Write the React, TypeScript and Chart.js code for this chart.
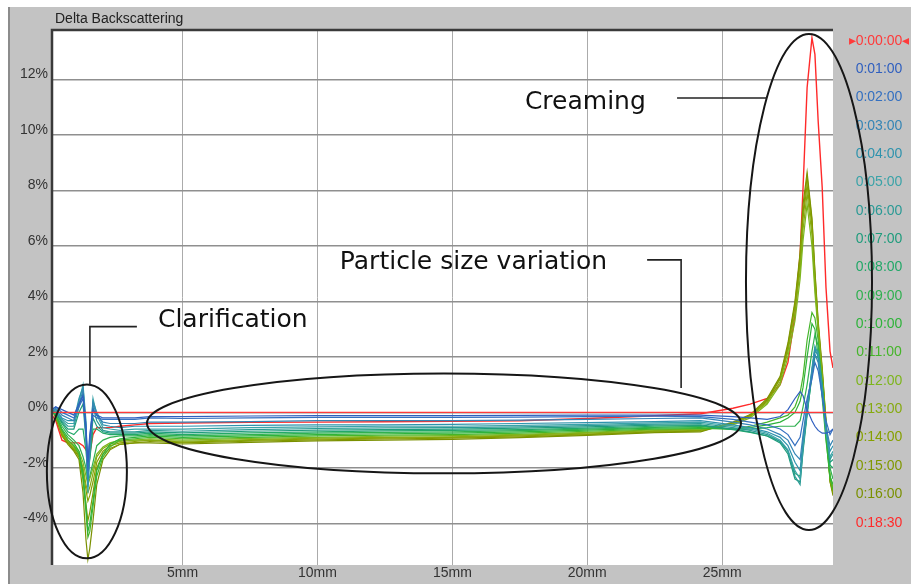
import { useEffect, useRef } from 'react';
import { Chart, registerables } from 'chart.js';

Chart.register(...registerables);

// ---- data (height in the cell, mm / delta backscattering, %) ----
const positionsMm = [
  0.16, 0.30, 0.53, 0.75, 0.97, 1.16, 1.31, 1.42, 1.49, 1.56, 1.68, 1.82, 2.05, 2.31, 2.68, 3.23, 3.79,
  5.0, 7.5, 10.0, 12.5, 15.0, 17.5, 20.0, 22.5,
  24.2, 25.4, 26.04, 26.67, 27.15, 27.44, 27.70, 27.89, 28.0, 28.15, 28.33, 28.44, 28.56, 28.71, 28.85, 29.0, 29.11,
];

const refPositionsMm = [0.16, 29.11];
const delta0000 = [0, 0];

const delta0100 = [0.1, 0.2, 0.1, 0.0, -0.1, 0.3, 0.6, -0.5, -1.8, -0.8, 0.1, -0.1, -0.2, -0.2, -0.2, -0.2, -0.15,
  -0.15, -0.13, -0.12, -0.12, -0.12, -0.11, -0.1, -0.1,
  -0.1, -0.15, -0.2, -0.25, -0.15, 0.1, 0.5, 0.75, 0.6, 0.1, -0.3, -0.5, -0.65, -0.75, -0.75, -0.7, -0.6];
const delta0200 = [0.1, 0.2, 0.0, -0.1, -0.2, 0.2, 0.5, -0.8, -2.1, -1.0, -0.1, -0.2, -0.25, -0.25, -0.25, -0.25, -0.2,
  -0.22, -0.2, -0.18, -0.18, -0.18, -0.17, -0.15, -0.14,
  -0.15, -0.25, -0.35, -0.45, -0.6, -0.8, -1.2, -0.9, -0.3, 0.5, 1.2, 1.8, 1.5, 0.6, -0.3, -0.8, -0.6];
const delta0300 = [0.05, 0.15, -0.1, -0.2, -0.3, 0.3, 0.8, -0.6, -2.4, -1.2, 0.3, -0.1, -0.35, -0.4, -0.4, -0.4, -0.35,
  -0.35, -0.33, -0.3, -0.3, -0.3, -0.28, -0.25, -0.22,
  -0.2, -0.35, -0.45, -0.6, -0.8, -1.0, -1.5, -1.7, -0.8, 0.3, 1.4, 2.1, 1.8, 0.6, -0.5, -1.2, -1.0];
const delta0400 = [0.05, 0.1, -0.2, -0.3, -0.3, 0.5, 0.9, -0.5, -2.7, -1.0, 0.4, 0.0, -0.45, -0.5, -0.55, -0.5, -0.5,
  -0.5, -0.47, -0.45, -0.45, -0.43, -0.4, -0.37, -0.33,
  -0.3, -0.45, -0.55, -0.7, -0.9, -1.2, -1.8, -2.1, -1.0, 0.2, 1.5, 2.3, 2.0, 0.7, -0.6, -1.4, -1.2];
const delta0500 = [0.0, 0.1, -0.25, -0.4, -0.4, 0.4, 1.0, -0.3, -2.9, -1.3, 0.5, -0.1, -0.55, -0.6, -0.65, -0.6, -0.6,
  -0.6, -0.55, -0.52, -0.5, -0.5, -0.47, -0.43, -0.38,
  -0.35, -0.5, -0.6, -0.75, -1.0, -1.35, -2.1, -2.4, -1.2, 0.1, 1.6, 2.4, 2.1, 0.8, -0.7, -1.6, -1.4];
const delta0600 = [0.0, 0.05, -0.3, -0.5, -0.5, 0.2, 0.7, -0.8, -2.6, -1.5, 0.2, -0.3, -0.65, -0.7, -0.7, -0.7, -0.65,
  -0.68, -0.62, -0.58, -0.56, -0.55, -0.52, -0.48, -0.42,
  -0.4, -0.55, -0.65, -0.8, -1.05, -1.4, -2.3, -2.6, -1.3, 0.0, 1.5, 2.3, 2.2, 0.9, -0.6, -1.7, -1.5];
const delta0700 = [0.0, 0.0, -0.35, -0.6, -0.6, 0.0, 0.3, -1.0, -2.3, -1.6, -0.2, -0.5, -0.7, -0.75, -0.75, -0.75, -0.7,
  -0.74, -0.68, -0.64, -0.62, -0.6, -0.57, -0.52, -0.46,
  -0.45, -0.6, -0.7, -0.85, -1.1, -1.5, -2.4, -2.5, -1.4, -0.1, 1.4, 2.2, 2.1, 0.9, -0.5, -1.8, -1.7];
const delta0800 = [0.0, 0.0, -0.4, -0.7, -0.8, -0.6, -0.6, -1.4, -2.2, -1.7, -0.6, -0.6, -0.75, -0.8, -0.8, -0.8, -0.75,
  -0.8, -0.74, -0.7, -0.67, -0.65, -0.62, -0.57, -0.5,
  -0.48, -0.62, -0.72, -0.85, -1.05, -1.4, -2.2, -2.3, -1.2, 0.0, 1.3, 2.0, 2.0, 1.0, -0.4, -1.9, -2.0];
const delta0900 = [0.0, -0.05, -0.5, -0.8, -1.0, -1.2, -1.6, -2.0, -2.5, -2.3, -1.8, -1.2, -1.0, -0.9, -0.85, -0.85, -0.8,
  -0.85, -0.8, -0.75, -0.72, -0.7, -0.66, -0.6, -0.54,
  -0.5, -0.6, -0.6, -0.55, -0.5, -0.5, -0.5, -0.3, 0.2, 1.0, 2.2, 2.8, 2.4, 1.0, -0.5, -2.0, -2.4];
const delta1000 = [0.05, -0.1, -0.6, -0.9, -1.1, -1.4, -2.2, -3.4, -4.3, -4.0, -3.2, -2.1, -1.5, -1.15, -0.95, -0.9, -0.85,
  -0.9, -0.85, -0.8, -0.77, -0.75, -0.7, -0.64, -0.57,
  -0.55, -0.6, -0.55, -0.45, -0.35, -0.2, 0.0, 0.4, 0.9, 2.0, 3.2, 3.0, 2.0, 0.5, -1.0, -2.3, -2.6];
const delta1100 = [0.05, -0.1, -0.65, -1.0, -1.2, -1.5, -2.4, -3.6, -4.5, -4.3, -3.4, -2.3, -1.6, -1.25, -1.0, -0.95, -0.9,
  -0.95, -0.9, -0.85, -0.82, -0.8, -0.75, -0.68, -0.6,
  -0.58, -0.6, -0.5, -0.35, -0.2, -0.1, 0.2, 0.7, 1.3, 2.6, 3.6, 3.4, 2.6, 0.9, -0.9, -2.4, -2.8];
const delta1200 = [0.1, -0.1, -0.7, -1.0, -1.2, -1.4, -1.8, -2.3, -2.6, -2.4, -2.0, -1.5, -1.25, -1.1, -1.0, -1.0, -0.95,
  -1.0, -0.94, -0.9, -0.86, -0.84, -0.79, -0.72, -0.63,
  -0.6, -0.45, -0.2, 0.3, 1.0, 2.0, 3.3, 4.8, 6.2, 7.5, 6.0, 4.3, 2.9, 1.2, -0.6, -2.3, -2.7];
const delta1300 = [0.1, -0.1, -0.75, -1.05, -1.25, -1.5, -2.0, -2.6, -2.9, -2.7, -2.2, -1.6, -1.3, -1.15, -1.05, -1.0, -1.0,
  -1.04, -0.98, -0.93, -0.9, -0.88, -0.82, -0.75, -0.66,
  -0.62, -0.42, -0.15, 0.35, 1.1, 2.2, 3.6, 5.1, 6.6, 7.9, 6.4, 4.6, 3.0, 1.3, -0.5, -2.4, -2.8];
const delta1400 = [0.1, -0.15, -0.8, -1.1, -1.3, -1.55, -2.1, -2.8, -3.2, -3.0, -2.5, -1.8, -1.4, -1.2, -1.1, -1.05, -1.0,
  -1.07, -1.01, -0.96, -0.93, -0.9, -0.85, -0.78, -0.68,
  -0.65, -0.4, -0.12, 0.4, 1.2, 2.3, 3.8, 5.4, 7.0, 8.2, 6.7, 4.8, 3.1, 1.4, -0.4, -2.4, -2.9];
const delta1500 = [0.1, -0.15, -0.8, -1.1, -1.35, -1.6, -2.4, -3.3, -3.9, -3.6, -2.9, -2.0, -1.5, -1.3, -1.15, -1.1, -1.05,
  -1.1, -1.04, -0.99, -0.96, -0.93, -0.88, -0.8, -0.7,
  -0.68, -0.38, -0.1, 0.45, 1.25, 2.4, 3.9, 5.6, 7.2, 8.5, 6.9, 5.0, 3.2, 1.5, -0.3, -2.5, -2.9];
const delta1600 = [0.1, -0.2, -0.85, -1.15, -1.4, -1.7, -2.9, -4.6, -5.3, -4.9, -3.9, -2.6, -1.7, -1.35, -1.15, -1.1, -1.1,
  -1.14, -1.08, -1.03, -1.0, -0.97, -0.91, -0.83, -0.73,
  -0.7, -0.35, -0.08, 0.5, 1.3, 2.5, 4.0, 5.75, 7.5, 8.65, 7.0, 5.1, 3.3, 1.6, -0.3, -2.5, -3.0];
const delta1830 = [-0.1, -0.3, -1.0, -1.1, -1.1, -1.1, -1.2, -1.35, -1.45, -1.5, -0.8, -0.55, -0.55, -0.55, -0.5, -0.45, -0.4,
  -0.38, -0.36, -0.35, -0.34, -0.32, -0.3, -0.22, -0.12,
  -0.05, 0.15, 0.3, 0.5, 1.0, 1.8, 3.5, 5.7, 8.1, 11.7, 13.5, 12.9, 10.5, 8.1, 4.5, 2.2, 1.6];

const timeLabels = ['0:00:00', '0:01:00', '0:02:00', '0:03:00', '0:04:00', '0:05:00', '0:06:00', '0:07:00', '0:08:00',
  '0:09:00', '0:10:00', '0:11:00', '0:12:00', '0:13:00', '0:14:00', '0:15:00', '0:16:00', '0:18:30'];
const seriesValues = [delta0000, delta0100, delta0200, delta0300, delta0400, delta0500, delta0600, delta0700, delta0800,
  delta0900, delta1000, delta1100, delta1200, delta1300, delta1400, delta1500, delta1600, delta1830];
const seriesColors = ['#ff3a3a', '#2f5fbf', '#3470c0', '#3585b5', '#2f93ad', '#3aa3a8', '#2a9a95', '#1f9c7c', '#22a868',
  '#30b050', '#2eb33a', '#45b52a', '#7db51c', '#86aa10', '#86a000', '#809800', '#7a9000', '#ff2a2a'];

const xRangeMm = [0.16, 29.11];
const yRangePct = [-5.5, 13.78];
const xTickStepMm = 5;
const yTickStepPct = 2;

// ---- annotation layer (in data units) ----
const ellipses = [
  { cx: 1.453, cy: -2.126, rx: 1.483, ry: 3.135 },
  { cx: 14.69, cy: -0.396, rx: 11.01, ry: 1.80 },
  { cx: 28.22, cy: 4.70, rx: 2.336, ry: 8.94 },
];
const callouts = [
  { text: 'Creaming', x: 17.69, y: 10.92, path: [[23.33, 11.33], [26.66, 11.33]] },
  { text: 'Particle size variation', x: 10.83, y: 5.17, path: [[22.22, 5.495], [23.48, 5.495], [23.48, 0.883]] },
  { text: 'Clarification', x: 4.087, y: 3.081, path: [[3.307, 3.092], [1.565, 3.092], [1.565, 0.991]] },
];

const AXIS_FONT = '"Liberation Sans", Arial, sans-serif';

const decorPlugin = {
  id: 'decor',
  beforeDraw(chart: any) {
    const { ctx, chartArea: a, width, height } = chart;
    ctx.save();
    ctx.fillStyle = '#c3c3c3';
    ctx.fillRect(0, 0, width, height);
    ctx.fillStyle = '#8c8c8c';
    ctx.fillRect(0, 0, 2, height);
    ctx.fillStyle = '#ffffff';
    ctx.fillRect(a.left, a.top, a.right - a.left, a.bottom - a.top);
    ctx.fillStyle = '#222';
    ctx.font = '14px ' + AXIS_FONT;
    ctx.textAlign = 'left';
    ctx.textBaseline = 'alphabetic';
    ctx.fillText('Delta Backscattering', a.left + 3, a.top - 7);
    ctx.restore();
  },
  afterDraw(chart: any) {
    const { ctx, chartArea: a } = chart;
    const xs = chart.scales.x;
    const ys = chart.scales.y;
    ctx.save();
    // plot frame (top and left)
    ctx.strokeStyle = '#3a3a3a';
    ctx.lineWidth = 2.5;
    ctx.beginPath();
    ctx.moveTo(a.left, a.bottom);
    ctx.lineTo(a.left, a.top);
    ctx.lineTo(a.right, a.top);
    ctx.stroke();

    // legend of times
    ctx.font = '14px ' + AXIS_FONT;
    ctx.textAlign = 'center';
    ctx.textBaseline = 'middle';
    timeLabels.forEach((t, i) => {
      ctx.fillStyle = seriesColors[i];
      const label = i === 0 ? '\u25B8' + t + '\u25C2' : t;
      ctx.fillText(label, a.right + 46, a.top + 10.7 + 28.35 * i);
    });

    // ellipses
    ctx.strokeStyle = '#161616';
    ctx.lineWidth = 2;
    ellipses.forEach((e) => {
      const cx = xs.getPixelForValue(e.cx);
      const cy = ys.getPixelForValue(e.cy);
      const rx = Math.abs(xs.getPixelForValue(e.cx + e.rx) - cx);
      const ry = Math.abs(ys.getPixelForValue(e.cy + e.ry) - cy);
      ctx.beginPath();
      ctx.ellipse(cx, cy, rx, ry, 0, 0, Math.PI * 2);
      ctx.stroke();
    });

    // callouts
    ctx.font = '25px "DejaVu Sans", sans-serif';
    ctx.textAlign = 'left';
    ctx.textBaseline = 'alphabetic';
    callouts.forEach((c) => {
      ctx.fillStyle = '#111';
      ctx.fillText(c.text, xs.getPixelForValue(c.x), ys.getPixelForValue(c.y));
      ctx.strokeStyle = '#222';
      ctx.lineWidth = 1.6;
      ctx.beginPath();
      c.path.forEach(([px, py], k) => {
        const X = xs.getPixelForValue(px);
        const Y = ys.getPixelForValue(py);
        if (k === 0) ctx.moveTo(X, Y);
        else ctx.lineTo(X, Y);
      });
      ctx.stroke();
    });
    ctx.restore();
  },
};

export default function App() {
  const canvasRef = useRef<HTMLCanvasElement | null>(null);

  useEffect(() => {
    const canvas = canvasRef.current;
    if (!canvas) return;
    const datasets = seriesValues.map((vals, i) => {
      const xsArr = i === 0 ? refPositionsMm : positionsMm;
      return {
        label: timeLabels[i],
        data: vals.map((v, k) => ({ x: xsArr[k], y: v })),
        borderColor: seriesColors[i],
        backgroundColor: seriesColors[i],
        borderWidth: i === 17 ? 1.4 : 1.2,
        pointRadius: 0,
        tension: 0,
        fill: false,
      };
    });
    const chart = new Chart(canvas, {
      type: 'line',
      data: { datasets },
      options: {
        responsive: false,
        animation: false,
        devicePixelRatio: 1,
        layout: { padding: { left: 0, top: 23, right: 78, bottom: 0 } },
        plugins: { legend: { display: false }, tooltip: { enabled: false } },
        scales: {
          x: {
            type: 'linear',
            min: xRangeMm[0],
            max: xRangeMm[1],
            afterFit: (s: any) => { s.height = 19; },
            ticks: {
              stepSize: xTickStepMm,
              includeBounds: false,
              autoSkip: false,
              maxRotation: 0,
              padding: 0,
              color: '#333',
              font: { family: AXIS_FONT, size: 14 },
              callback: (v: any) => v + 'mm',
            },
            grid: { color: '#ababab', lineWidth: 1, drawTicks: false },
            border: { display: false },
          },
          y: {
            type: 'linear',
            min: yRangePct[0],
            max: yRangePct[1],
            afterFit: (s: any) => { s.width = 44; },
            ticks: {
              stepSize: yTickStepPct,
              includeBounds: false,
              padding: 4,
              labelOffset: -5,
              color: '#333',
              font: { family: AXIS_FONT, size: 14 },
              callback: (v: any) => v + '%',
            },
            grid: { color: '#8f8f8f', lineWidth: 1.5, drawTicks: false },
            border: { display: false },
          },
        },
      },
      plugins: [decorPlugin],
    });
    return () => chart.destroy();
  }, []);

  return (
    <div style={{ position: 'fixed', left: 8, top: 7, width: 903, height: 577 }}>
      <canvas ref={canvasRef} width={903} height={577} style={{ display: 'block' }} />
    </div>
  );
}
